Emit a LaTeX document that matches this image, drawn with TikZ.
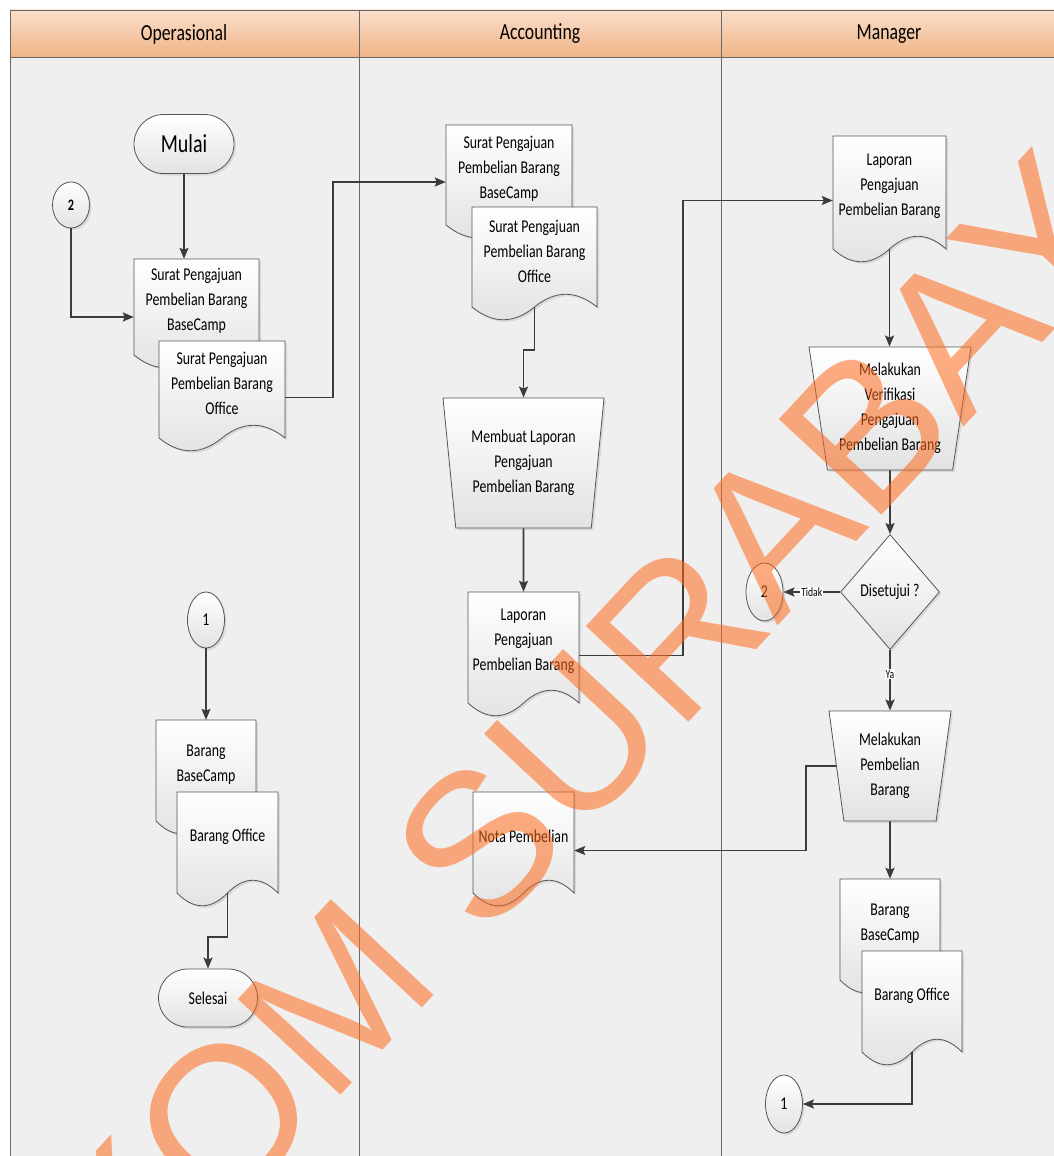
\documentclass[tikz,border=0pt]{standalone}
\usepackage{fontspec}
\setmainfont{Carlito}[FakeStretch=0.77]
\newfontfamily\wmfont{Liberation Sans}
\usetikzlibrary{shapes.geometric, shapes.misc, arrows.meta, calc, shadows}

\definecolor{hdtop}{RGB}{250,223,204}
\definecolor{hdbot}{RGB}{240,180,134}
\definecolor{laneback}{RGB}{239,239,239}
\definecolor{laneline}{RGB}{105,105,105}
\definecolor{flowline}{RGB}{60,60,60}
\definecolor{shapeline}{RGB}{85,85,85}
\definecolor{shapebot}{RGB}{226,226,226}
\definecolor{wmorange}{RGB}{254,105,28}

\newcommand{\wavey}{17}
% document symbol: name, left, top, width, height, text
\newcommand{\docshape}[6]{%
  \path[docbox] (#2,#3) -- (#2+#4,#3) -- (#2+#4,#3+#5)
    .. controls (#2+#4*5/6,#3+#5-\wavey) and (#2+#4*4/6,#3+#5-\wavey) .. (#2+#4/2,#3+#5)
    .. controls (#2+#4*2/6,#3+#5+\wavey) and (#2+#4/6,#3+#5+\wavey) .. (#2,#3+#5) -- cycle;
  \node[docspot, minimum width=#4, minimum height=#5] (#1) at (#2+#4/2,#3+#5/2) {};
  \node[doctext] (#1t) at (#2+#4/2,#3+#5/2-6) {#6};
}

\begin{document}
\begin{tikzpicture}[x=1pt, y=-1pt, >={Stealth[length=11pt,width=9pt,inset=2pt]},
    every node/.style={font=\fontsize{18}{25}\selectfont},
    shapefill/.style={draw=shapeline, line width=0.8pt, top color=white, bottom color=shapebot,
      drop shadow={shadow xshift=2pt, shadow yshift=-2pt, opacity=0.2}},
    docbox/.style={shapefill},
    docspot/.style={rectangle, draw=none, inner sep=0pt},
    doctext/.style={align=center, inner sep=0pt},
    term/.style={rounded rectangle, shapefill, minimum width=100, minimum height=59, inner sep=0pt},
    conn/.style={ellipse, shapefill, minimum width=37, inner sep=0pt},
    proc/.style={trapezium, shape border rotate=180, trapezium stretches body, shapefill,
      align=center, inner sep=0pt},
    decision/.style={diamond, shapefill, minimum width=99, minimum height=115, inner sep=0pt},
    flow/.style={->, draw=flowline, line width=1.8pt},
    lbl/.style={fill=white, inner sep=1pt, font=\fontsize{12.5}{12.5}\selectfont},
    lanehead/.style={font=\fontsize{23}{23}\selectfont},
    wm/.style={text=wmorange, text opacity=0.55, font=\wmfont\fontsize{204}{204}\selectfont}]
\useasboundingbox (0,0) rectangle (1054,1156);
\clip (0,0) rectangle (1054,1156);
\fill[white] (0,0) rectangle (1054,1156);

% lanes
\fill[laneback] (10,57) rectangle (1066,1168);
\shade[top color=hdtop, bottom color=hdbot] (10,10) rectangle (1066,57);
\draw[laneline] (10,1168) -- (10,10) -- (1066,10);
\draw[laneline] (10,57) -- (1066,57);
\draw[laneline] (359,10) -- (359,1168);
\draw[laneline] (721,10) -- (721,1168);
\node[lanehead] (hop) at (184,34) {Operasional};
\node[lanehead] (hacc) at (540,34) {Accounting};
\node[lanehead] (hman) at (889,34) {Manager};

% Operasional
\node[term, font=\fontsize{26}{26}\selectfont] (mulai) at (184,144) {Mulai};
\node[conn, minimum height=46, font=\bfseries\fontsize{16}{16}\selectfont] (c2a) at (71,205) {2};
\docshape{d1a}{134}{259}{125}{96}{Surat Pengajuan\\Pembelian Barang\\BaseCamp}
\docshape{d1b}{159}{341}{126}{97}{Surat Pengajuan\\Pembelian Barang\\Office}
\node[conn, minimum height=56] (c1a) at (206,620) {1};
\docshape{bc1}{156}{720}{100}{101}{Barang\\BaseCamp}
\docshape{bo1}{177}{792}{101}{101}{Barang Office}
\node[term, minimum width=99, minimum height=58] (sel) at (208,998) {Selesai};

% Accounting
\docshape{d2a}{446}{125}{126}{100}{Surat Pengajuan\\Pembelian Barang\\BaseCamp}
\docshape{d2b}{472}{207}{125}{100}{Surat Pengajuan\\Pembelian Barang\\Office}
\node[proc, minimum width=161, minimum height=130, trapezium angle=79] (memb) at (523.5,463) {Membuat Laporan\\Pengajuan\\Pembelian Barang};
\docshape{lap1}{468}{592}{111}{111}{Laporan\\Pengajuan\\Pembelian Barang}
\docshape{nota}{473}{792}{101}{101}{Nota Pembelian}

% Manager
\docshape{lap2}{833}{136}{113}{113}{Laporan\\Pengajuan\\Pembelian Barang}
\node[proc, minimum width=162, minimum height=123, trapezium angle=78.5] (verif) at (890,408.5) {Melakukan\\Verifikasi\\Pengajuan\\Pembelian Barang};
\node[decision] (dec) at (890,592) {Disetujui ?};
\node[conn, minimum height=58] (c2b) at (764.5,592) {2};
\node[proc, minimum width=122, minimum height=110, trapezium angle=77.2] (beli) at (890,766) {Melakukan\\Pembelian\\Barang};
\docshape{bc3}{840}{879}{100}{101}{Barang\\BaseCamp}
\docshape{bo3}{862}{951}{100}{101}{Barang Office}
\node[conn, minimum height=58] (c1b) at (784,1104) {1};

% alur
\draw[flow] (mulai) -- (mulai |- d1a.north);
\draw[flow] (c2a) |- ($(d1a.west)+(0,10)$);
\draw[flow] ($(d1b.east)+(0,8)$) -- ++(48,0) |- ($(d2a.west)+(0,7)$);
\draw[flow] (d2b.south) -- ++(0,43) -| (memb);
\draw[flow] (memb) -- (memb |- lap1.north);
\draw[flow] ($(lap1.east)+(0,8)$) -- ++(104,0) |- ($(lap2.west)+(0,8)$);
\draw[flow] (lap2.south) -- (lap2.south |- verif.north);
\draw[flow] (verif) -- (dec);
\draw[flow] (dec) -- node[lbl]{Tidak} (c2b);
\draw[flow] (dec) -- node[lbl, pos=0.4]{Ya} (beli);
\draw[flow] (beli.west) -- ++(-30,0) |- ($(nota.east)+(0,8)$);
\draw[flow] (beli) -- (bc3);
\draw[flow] (bo3.south) |- (c1b);
\draw[flow] (c1a) -- (bc1);
\draw[flow] (bo1.south) -- ++(0,44) -| (sel);

% watermark
\node[wm, rotate=47] (wmark) at (515,805) {STIKOM SURABAYA};
\end{tikzpicture}
\end{document}
